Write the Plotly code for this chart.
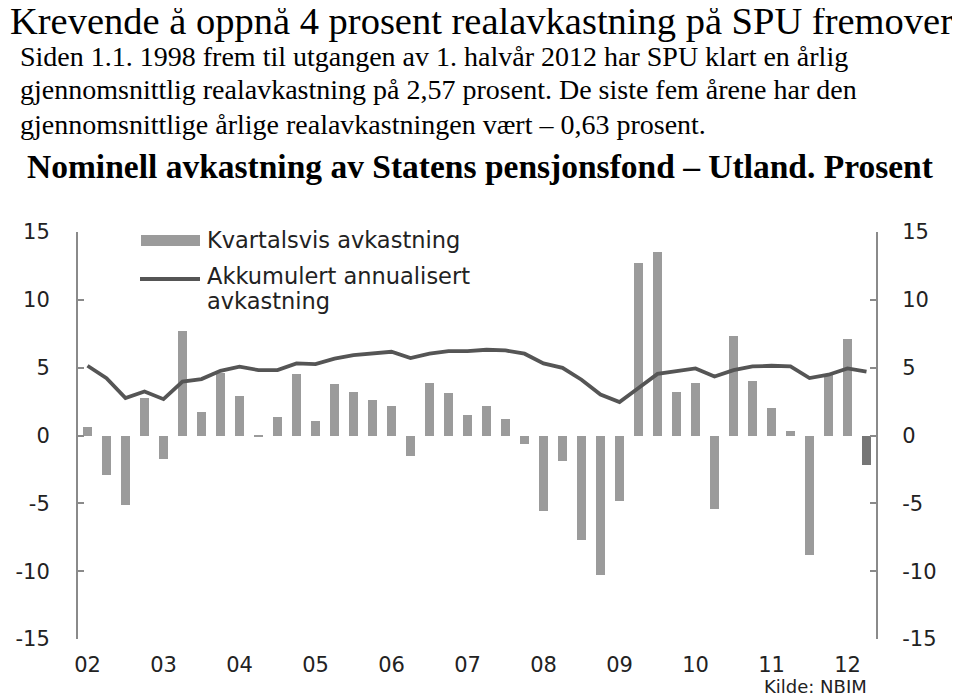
import plotly.graph_objects as go

# kvartalsvis avkastning 2002K1 - 2012K2 (prosent)
years = list(range(2002, 2013))
periods = [(y, q) for y in years for q in range(1, 5)][:42]
kvartal = [0.6, -2.9, -5.1, 2.8,
           -1.7, 7.7, 1.7, 4.6,
           2.9, -0.1, 1.4, 4.5,
           1.1, 3.8, 3.2, 2.6,
           2.2, -1.5, 3.9, 3.1,
           1.5, 2.2, 1.2, -0.6,
           -5.6, -1.9, -7.7, -10.3,
           -4.8, 12.7, 13.5, 3.2,
           3.9, -5.4, 7.3, 4.0,
           2.0, 0.3, -8.8, 4.5,
           7.1, -2.2]
# akkumulert annualisert avkastning
akkumulert = [5.14, 4.23, 2.76, 3.24, 2.68, 3.98, 4.16, 4.77, 5.07, 4.82,
              4.82, 5.31, 5.26, 5.66, 5.93, 6.05, 6.17, 5.71, 6.03, 6.22,
              6.22, 6.32, 6.27, 6.03, 5.31, 4.99, 4.11, 3.02, 2.46, 3.5,
              4.54, 4.75, 4.94, 4.35, 4.82, 5.09, 5.14, 5.09, 4.23, 4.48,
              4.94, 4.7]
year_labels = ['02', '03', '04', '05', '06', '07', '08', '09', '10', '11', '12']
y_ticks = [-15, -10, -5, 0, 5, 10, 15]
y_tick_text = ['-15', '-10', '-5', '0', '5', '10', '15']

x = [y + (q - 0.5) / 4 for y, q in periods]
bar_colors = ['#9b9b9b'] * (len(kvartal) - 1) + ['#767676']

# the page body adds an 8px margin, so work in screen pixels and shift back
OFF = 8
W, H = 960, 697
L, R, T, B = 78 - OFF, 876 - OFF, 232 - OFF, 639 - OFF


def px(v):
    return (v - OFF - L) / (R - L)


def py(v):
    return (B - (v - OFF)) / (B - T)


axis_grey = '#8a8a8a'
line_grey = '#555555'
txt = '#222222'
sans = 'DejaVu Sans'
serif = 'Liberation Serif'

fig = go.Figure()
fig.add_trace(go.Bar(x=x, y=kvartal, width=0.125, marker_color=bar_colors,
                     marker_line_width=0, showlegend=False))
fig.add_trace(go.Scatter(x=x, y=akkumulert, mode='lines', yaxis='y2',
                         line=dict(color=line_grey, width=3.8), showlegend=False))

xr = [2002, 2012.5]
fig.update_layout(
    width=W, height=H, paper_bgcolor='white', plot_bgcolor='white',
    margin=dict(l=L, r=W - R, t=T, b=H - B, autoexpand=False),
    font=dict(family=sans, color=txt, size=21),
    bargap=0,
    xaxis=dict(range=xr, showline=False, showgrid=False, zeroline=False, ticks='',
               tickvals=[y + 0.125 for y in years], ticktext=year_labels,
               ticklabelstandoff=11, automargin=False),
    xaxis2=dict(range=xr, overlaying='x', anchor='free', position=0.5, showline=True,
                linecolor=axis_grey, linewidth=2, ticks='outside', ticklen=6,
                tickwidth=2, tickcolor=axis_grey, tickvals=years[1:],
                showticklabels=False, showgrid=False, zeroline=False, automargin=False),
    xaxis3=dict(range=xr, overlaying='x', anchor='free', position=0.5, showline=False,
                ticks='inside', ticklen=6, tickwidth=2, tickcolor=axis_grey,
                tickvals=years[1:], showticklabels=False, showgrid=False, zeroline=False,
                automargin=False),
    yaxis=dict(range=[-15, 15], tickvals=y_ticks, ticktext=y_tick_text, ticks='inside',
               ticklen=6, tickwidth=2, tickcolor=axis_grey, showline=True,
               linecolor=axis_grey, linewidth=2, showgrid=False, zeroline=False,
               ticklabelstandoff=22, automargin=False),
    yaxis2=dict(range=[-15, 15], tickvals=y_ticks, ticktext=y_tick_text, overlaying='y',
                side='right', anchor='x', ticks='inside', ticklen=6, tickwidth=2,
                tickcolor=axis_grey, showline=True, linecolor=axis_grey, linewidth=2,
                showgrid=False, zeroline=False, ticklabelstandoff=20, automargin=False),
)

# legend
fig.add_shape(type='rect', xref='paper', yref='paper', x0=px(141), x1=px(200),
              y0=py(246), y1=py(235), fillcolor='#9b9b9b', line_width=0)
fig.add_shape(type='line', xref='paper', yref='paper', x0=px(140), x1=px(200),
              y0=py(279), y1=py(279), line=dict(color=line_grey, width=3.8))
legend_text = [('Kvartalsvis avkastning', 240), ('Akkumulert annualisert', 276),
               ('avkastning', 301)]
for s, yy in legend_text:
    fig.add_annotation(xref='paper', yref='paper', x=px(205), y=py(yy), xanchor='left',
                       yanchor='middle', showarrow=False, text=s, font=dict(size=22.5))

# titles
fig.add_annotation(xref='paper', yref='paper', x=px(8), y=py(21.5), xanchor='left',
                   yanchor='middle', showarrow=False,
                   text='Krevende å oppnå 4 prosent realavkastning på SPU fremover',
                   font=dict(family=serif, size=38.5, color='black'))
sub = ['Siden 1.1. 1998 frem til utgangen av 1. halvår 2012 har SPU klart en årlig',
       'gjennomsnittlig realavkastning på 2,57 prosent. De siste fem årene har den',
       'gjennomsnittlige årlige realavkastningen vært – 0,63 prosent.']
for i, s in enumerate(sub):
    fig.add_annotation(xref='paper', yref='paper', x=px(18), y=py(56 + 34 * i),
                       xanchor='left', yanchor='middle', showarrow=False, text=s,
                       font=dict(family=serif, size=28, color='black'))
fig.add_annotation(xref='paper', yref='paper', x=px(480), y=py(166), xanchor='center',
                   yanchor='middle', showarrow=False,
                   text='<b>Nominell avkastning av Statens pensjonsfond – Utland. Prosent</b>',
                   font=dict(family=serif, size=33.5, color='black'))
fig.add_annotation(xref='paper', yref='paper', x=px(869), y=py(686.5), xanchor='right',
                   yanchor='middle', showarrow=False, text='Kilde: NBIM',
                   font=dict(size=18))

fig.write_html("out.html")
